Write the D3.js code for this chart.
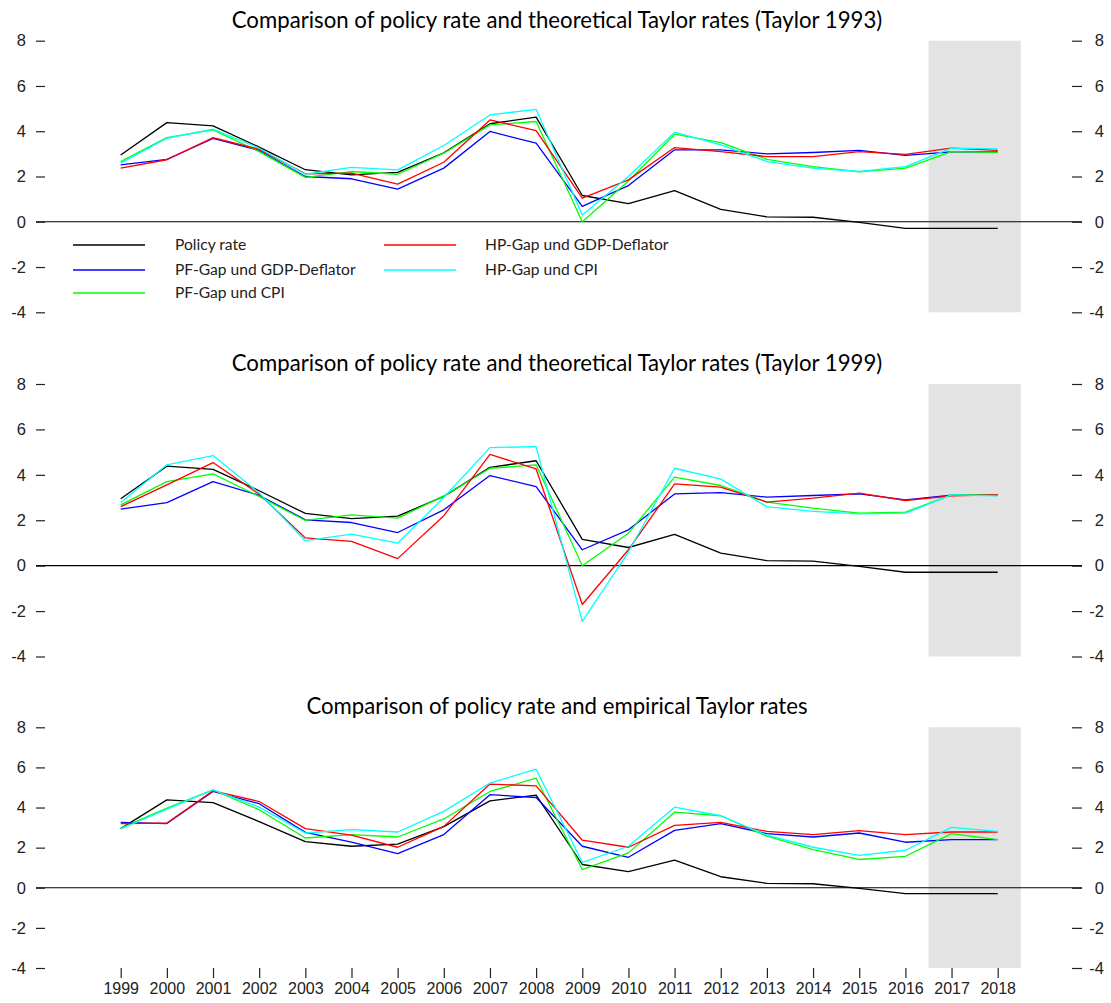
<!DOCTYPE html>
<html><head><meta charset="utf-8">
<script src="https://cdn.jsdelivr.net/npm/d3@7"></script>
<style>body{margin:0;background:#fff} svg{display:block}</style>
</head><body><svg id="c" width="1111" height="1003"></svg>
<script>
// ---------- data ----------
const years = [1999,2000,2001,2002,2003,2004,2005,2006,2007,2008,2009,2010,2011,2012,2013,2014,2015,2016,2017,2018];
const yTicks = [8,6,4,2,0,-2,-4];
const seriesNames = ["Policy rate","PF-Gap und GDP-Deflator","PF-Gap und CPI","HP-Gap und GDP-Deflator","HP-Gap und CPI"];
const seriesColors = ["#000000","#0000ff","#00ff00","#ff0000","#00ffff"];
const titles = [
  "Comparison of policy rate and theoretical Taylor rates (Taylor 1993)",
  "Comparison of policy rate and theoretical Taylor rates (Taylor 1999)",
  "Comparison of policy rate and empirical Taylor rates"
];
const forecastRange = [2016.5, 2018.5];

const policyRate = [2.95,4.38,4.24,3.30,2.30,2.07,2.18,3.05,4.33,4.62,1.16,0.80,1.38,0.55,0.22,0.20,-0.03,-0.29,-0.29,-0.29];

// Taylor 1993
const t93PfGdp = [2.51,2.76,3.68,3.15,2.00,1.90,1.44,2.37,3.99,3.47,0.68,1.60,3.18,3.18,3.00,3.06,3.15,2.93,3.09,3.09];
const t93PfCpi = [2.66,3.72,4.06,3.10,1.96,2.22,2.10,3.03,4.28,4.43,0.00,1.80,3.87,3.50,2.76,2.44,2.20,2.37,3.10,3.07];
const t93HpGdp = [2.37,2.74,3.72,3.20,2.12,2.15,1.66,2.63,4.50,4.03,1.04,1.85,3.28,3.10,2.88,2.88,3.10,2.98,3.25,3.15];
const t93HpCpi = [2.59,3.69,4.09,3.25,2.10,2.40,2.29,3.37,4.72,4.97,0.30,2.00,3.96,3.40,2.66,2.37,2.22,2.44,3.25,3.22];

// Taylor 1999
const t99PfGdp = [2.49,2.78,3.70,3.10,2.02,1.90,1.46,2.46,3.97,3.48,0.70,1.58,3.16,3.22,3.02,3.09,3.16,2.90,3.10,3.12];
const t99PfCpi = [2.68,3.70,4.04,3.05,1.99,2.24,2.09,3.07,4.29,4.44,0.00,1.43,3.90,3.53,2.80,2.53,2.31,2.36,3.12,3.12];
const t99HpGdp = [2.60,3.56,4.54,3.15,1.22,1.07,0.31,2.20,4.90,4.26,-1.71,0.70,3.60,3.46,2.80,2.97,3.19,2.87,3.07,3.12];
const t99HpCpi = [2.78,4.44,4.85,3.20,1.10,1.39,0.99,3.00,5.20,5.24,-2.45,0.60,4.29,3.81,2.60,2.39,2.28,2.31,3.12,3.07];

// empirical
const empPfGdp = [3.26,3.20,4.80,4.19,2.76,2.28,1.70,2.65,4.64,4.50,2.07,1.52,2.86,3.20,2.70,2.53,2.73,2.27,2.40,2.40];
const empPfCpi = [2.98,3.97,4.88,3.89,2.48,2.65,2.53,3.43,4.80,5.46,0.91,1.74,3.77,3.59,2.57,1.90,1.41,1.57,2.70,2.40];
const empHpGdp = [3.20,3.23,4.83,4.30,2.95,2.62,2.02,3.06,5.17,5.08,2.37,2.02,3.11,3.26,2.81,2.65,2.85,2.65,2.78,2.78];
const empHpCpi = [2.93,3.92,4.88,4.02,2.73,2.90,2.78,3.81,5.22,5.91,1.27,2.07,4.02,3.59,2.62,2.02,1.62,1.87,3.01,2.81];

// ---------- layout ----------
const svg = d3.select("#c");
const x = d3.scaleLinear().domain([1999, 2018]).range([120.7, 997.7]);
const panels = [
  {title: titles[0], data: [policyRate, t93PfGdp, t93PfCpi, t93HpGdp, t93HpCpi], top: 40.7, bottom: 312.3, titleY: 20, legend: true},
  {title: titles[1], data: [policyRate, t99PfGdp, t99PfCpi, t99HpGdp, t99HpCpi], top: 384, bottom: 656.5, titleY: 363, legend: false},
  {title: titles[2], data: [policyRate, empPfGdp, empPfCpi, empHpGdp, empHpCpi], top: 727.3, bottom: 968, titleY: 706, legend: false, xAxis: true}
];
const tickFont = "'Liberation Sans',Arial,sans-serif";
const textFont = "Lato,'Open Sans',sans-serif";
const fmt = d => String(d);

panels.forEach(p => {
  const y = d3.scaleLinear().domain([-4, 8]).range([p.bottom, p.top]);
  const g = svg.append("g");

  g.append("rect")
    .attr("x", x(forecastRange[0])).attr("width", x(forecastRange[1]) - x(forecastRange[0]))
    .attr("y", y(8)).attr("height", y(-4) - y(8))
    .attr("fill", "#e3e3e3");

  g.append("line")
    .attr("x1", 36).attr("x2", 1082)
    .attr("y1", y(0)).attr("y2", y(0))
    .attr("stroke", "#000").attr("stroke-width", 1.2);

  const la = g.append("g").attr("transform", "translate(45,0)")
    .call(d3.axisLeft(y).tickValues(yTicks).tickSize(9).tickPadding(10).tickFormat(fmt));
  la.select(".domain").remove();
  la.selectAll("line").attr("stroke", "#222").attr("stroke-width", 1.2);
  la.selectAll("text").attr("font-family", tickFont).attr("font-size", 16.5).attr("fill", "#222");

  const ra = g.append("g").attr("transform", "translate(1072,0)")
    .call(d3.axisRight(y).tickValues(yTicks).tickSize(10).tickFormat(fmt));
  ra.select(".domain").remove();
  ra.selectAll("line").attr("stroke", "#222").attr("stroke-width", 1.2);
  ra.selectAll("text").attr("x", 32).attr("text-anchor", "end")
    .attr("font-family", tickFont).attr("font-size", 16.5).attr("fill", "#222");

  if (p.xAxis) {
    const xa = g.append("g").attr("transform", `translate(0,${y(-4)})`)
      .call(d3.axisBottom(x).tickValues(years).tickSize(10).tickPadding(5).tickFormat(fmt));
    xa.select(".domain").remove();
    xa.selectAll("line").attr("stroke", "#222").attr("stroke-width", 1.2);
    xa.selectAll("text").attr("font-family", tickFont).attr("font-size", 16).attr("fill", "#222");
  }

  const line = d3.line().x((d, i) => x(years[i])).y(d => y(d));
  p.data.forEach((s, k) => {
    g.append("path").datum(s)
      .attr("d", line)
      .attr("fill", "none")
      .attr("stroke", seriesColors[k])
      .attr("stroke-width", 1.3)
      .attr("stroke-linejoin", "round");
  });

  g.append("text")
    .attr("x", 557).attr("y", p.titleY).attr("dy", "0.35em")
    .attr("text-anchor", "middle")
    .attr("font-family", textFont).attr("font-size", 22.2).attr("fill", "#000")
    .text(p.title);

  if (p.legend) {
    const rows = [245, 270, 293];
    const cols = [{lx: 73, tx: 175}, {lx: 384, tx: 485}];
    seriesNames.forEach((name, k) => {
      const c = cols[k < 3 ? 0 : 1], r = rows[k < 3 ? k : k - 3];
      g.append("line").attr("x1", c.lx).attr("x2", c.lx + 72).attr("y1", r).attr("y2", r)
        .attr("stroke", seriesColors[k]).attr("stroke-width", 1.3);
      g.append("text").attr("x", c.tx).attr("y", r).attr("dy", "0.35em")
        .attr("font-family", textFont).attr("font-size", 15.6).attr("fill", "#222")
        .text(name);
    });
  }
});
</script>
</body></html>
